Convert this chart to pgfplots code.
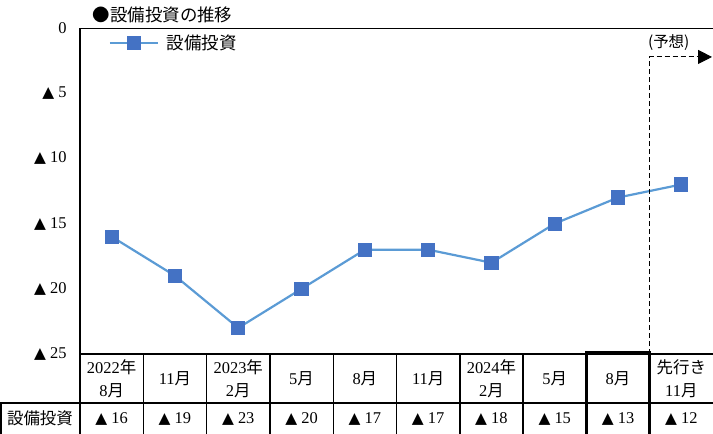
\documentclass[border=0pt]{standalone}
\usepackage{fontspec}
\setmainfont{Liberation Serif}
\newfontfamily\cjk{Noto Sans CJK JP}
\newfontfamily\sym{DejaVu Sans}
\usepackage{pgfplots}
\pgfplotsset{compat=1.18}
\usetikzlibrary{calc,arrows.meta}

\definecolor{lineblue}{HTML}{5B9BD5}
\definecolor{markblue}{HTML}{4472C4}
\newcommand{\tri}{{\sym\fontsize{15.5}{15}\selectfont ▲}}
\newcommand{\tf}{\fontsize{16.5}{23}\selectfont}

% 設備投資（マイナスは▲で表示）
\pgfplotstableread{
x v
0.5 16
1.5 19
2.5 23
3.5 20
4.5 17
5.5 17
6.5 18
7.5 15
8.5 13
9.5 12
}\invest

\begin{document}
\begin{tikzpicture}
\begin{axis}[
  name=ax,
  scale only axis,
  width=633bp, height=326bp,
  xmin=0, xmax=10, ymin=0, ymax=25,
  y dir=reverse,
  axis line style={draw=none},
  xtick=\empty,
  ytick={0,5,10,15,20,25},
  yticklabels={0,\tri\ 5,\tri\ 10,\tri\ 15,\tri\ 20,\tri\ 25},
  major tick length=0pt,
  yticklabel style={font=\tf, anchor=east, xshift=-10bp},
  clip=false,
  legend style={at={(0.045,0.985)}, anchor=north west, draw=none, fill=none,
    font=\cjk\fontsize{17.5}{19}\selectfont, inner sep=0pt,
    nodes={inner xsep=8bp}},
  legend image code/.code={\draw[mark repeat=2,mark phase=2,#1]
    plot coordinates {(0bp,0bp) (24bp,0bp) (48bp,0bp)};},
]
\addplot[lineblue, line width=2.2bp, mark=square*, mark size=6bp,
  mark options={fill=markblue, draw=markblue}] table[x=x,y=v] {\invest};
\addlegendentry{設備投資}

% 枠
\draw[line width=0.8bp] (axis cs:0,0) -- (axis cs:10,0);
\draw[line width=1.4bp] (axis cs:0,0) -- (axis cs:0,31.3);

% 表
\draw[line width=1.4bp] (axis cs:0,25) -- (axis cs:10,25);
\draw[line width=1.4bp] (axis cs:-1.264,28.76) -- (axis cs:10,28.76);
\pgfplotsinvokeforeach{1,...,9}{\draw[line width=1.4bp] (axis cs:#1,25) -- (axis cs:#1,31.3);}
\draw[line width=1.4bp] (axis cs:-1.25,28.76) -- (axis cs:-1.25,31.3);
\draw[line width=3bp] (axis cs:8,31.3) -- (axis cs:8,24.85) -- (axis cs:9,24.85) -- (axis cs:9,31.3);

% 予想
\draw[dashed, dash pattern=on 5bp off 3bp, line width=1bp,
  -{Triangle[length=14bp,width=14bp]}]
  (axis cs:9,25) -- (axis cs:9,2.22) -- (axis cs:9.985,2.22);
\node[font=\cjk\fontsize{15.5}{17}\selectfont] at (axis cs:9.3,1.15) {(予想)};

% タイトル
\node[anchor=west, font=\cjk\fontsize{17.5}{19}\selectfont, inner sep=0pt]
  at (axis cs:0.2,-1.0) {●設備投資の推移};

% 項目
\node[align=center, font=\tf] at (axis cs:0.5,26.88) {2022{\cjk 年}\\8{\cjk 月}};
\node[align=center, font=\tf] at (axis cs:1.5,26.88) {11{\cjk 月}};
\node[align=center, font=\tf] at (axis cs:2.5,26.88) {2023{\cjk 年}\\2{\cjk 月}};
\node[align=center, font=\tf] at (axis cs:3.5,26.88) {5{\cjk 月}};
\node[align=center, font=\tf] at (axis cs:4.5,26.88) {8{\cjk 月}};
\node[align=center, font=\tf] at (axis cs:5.5,26.88) {11{\cjk 月}};
\node[align=center, font=\tf] at (axis cs:6.5,26.88) {2024{\cjk 年}\\2{\cjk 月}};
\node[align=center, font=\tf] at (axis cs:7.5,26.88) {5{\cjk 月}};
\node[align=center, font=\tf] at (axis cs:8.5,26.88) {8{\cjk 月}};
\node[align=center, font=\tf] at (axis cs:9.5,26.88) {{\cjk 先行き}\\11{\cjk 月}};

% 値
\node[font=\cjk\fontsize{16.5}{18}\selectfont] at (axis cs:-0.632,29.95) {設備投資};
\node[font=\tf] at (axis cs:0.5,29.95) {\tri\ 16};
\node[font=\tf] at (axis cs:1.5,29.95) {\tri\ 19};
\node[font=\tf] at (axis cs:2.5,29.95) {\tri\ 23};
\node[font=\tf] at (axis cs:3.5,29.95) {\tri\ 20};
\node[font=\tf] at (axis cs:4.5,29.95) {\tri\ 17};
\node[font=\tf] at (axis cs:5.5,29.95) {\tri\ 17};
\node[font=\tf] at (axis cs:6.5,29.95) {\tri\ 18};
\node[font=\tf] at (axis cs:7.5,29.95) {\tri\ 15};
\node[font=\tf] at (axis cs:8.5,29.95) {\tri\ 13};
\node[font=\tf] at (axis cs:9.5,29.95) {\tri\ 12};
\end{axis}
\pgfresetboundingbox
\path ($(ax.south west)+(-80bp,-80bp)$) rectangle ($(ax.north east)+(0,28bp)$);
\end{tikzpicture}
\end{document}
